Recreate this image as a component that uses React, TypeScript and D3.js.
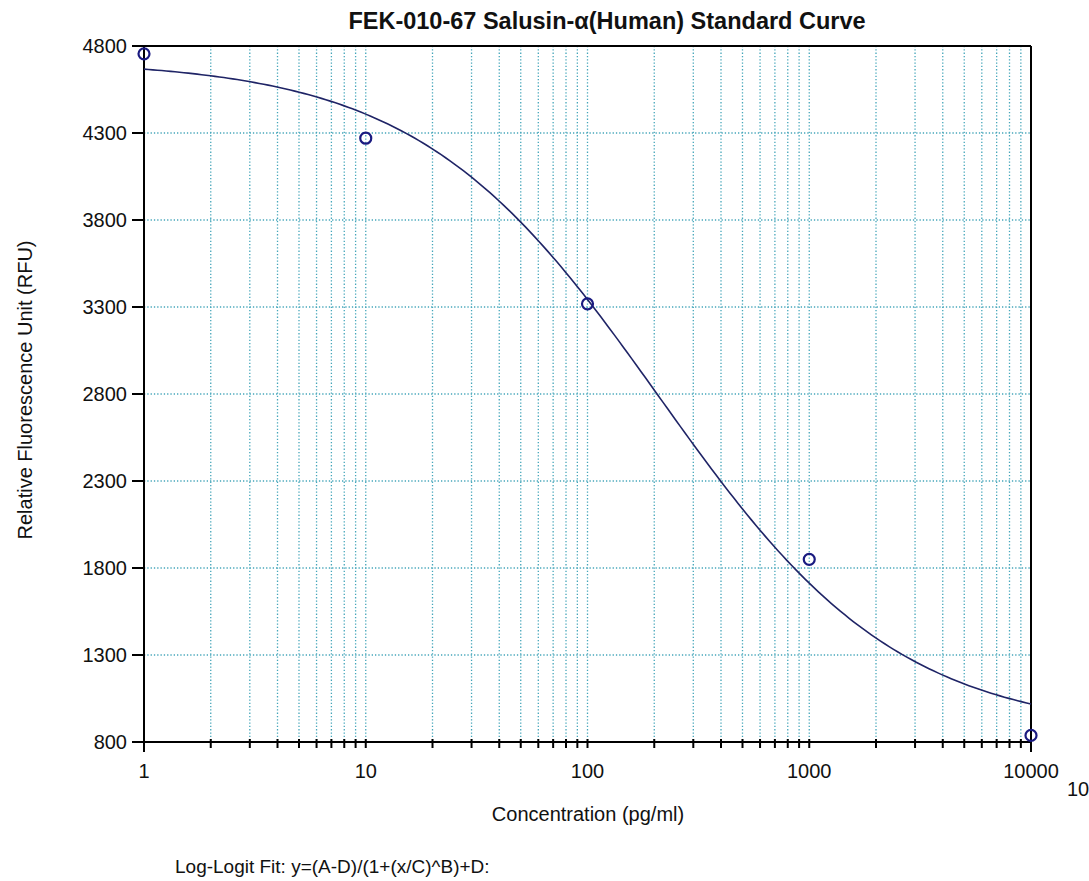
import React from "react";
import * as d3 from "d3";

const TITLE = "FEK-010-67 Salusin-α(Human) Standard Curve";
const X_LABEL = "Concentration (pg/ml)";
const Y_LABEL = "Relative Fluorescence Unit (RFU)";
const FOOTNOTE = "Log-Logit Fit: y=(A-D)/(1+(x/C)^B)+D:";

const concentrations = [1, 10, 100, 1000, 10000];
const rfu = [4755, 4270, 3318, 1850, 838];

const xTickValues = [1, 10, 100, 1000, 10000];
const yTickValues = [800, 1300, 1800, 2300, 2800, 3300, 3800, 4300, 4800];

// Log-logit fit parameters
const FIT_A = 4720;
const FIT_B = 0.8;
const FIT_C = 210;
const FIT_D = 850;

const W = 1089;
const H = 881;
const M = { left: 144, right: 1031, top: 46, bottom: 742 };

export default function App() {
  const x = d3.scaleLog().domain([1, 10000]).range([M.left, M.right]);
  const y = d3.scaleLinear().domain([800, 4800]).range([M.bottom, M.top]);

  const minorX: number[] = [];
  for (let e = 0; e < 4; e++) {
    for (let k = 1; k <= 9; k++) {
      const v = k * Math.pow(10, e);
      if (v > 1 && v < 10000) minorX.push(v);
    }
  }

  const fit = (c: number) => (FIT_A - FIT_D) / (1 + Math.pow(c / FIT_C, FIT_B)) + FIT_D;
  const curveXs = d3.range(0, 4.0001, 0.02).map((e) => Math.pow(10, e));
  const line = d3
    .line<number>()
    .x((c) => x(c))
    .y((c) => y(fit(c)))
    .curve(d3.curveLinear);

  const font = "'Liberation Sans', Arial, sans-serif";
  const grid = "#45a6ba";

  return (
    <>
      <style>{`body{margin:0}`}</style>
      <svg width={W} height={H} style={{ display: "block", background: "#fff" }} fontFamily={font}>
        <rect x={0} y={0} width={W} height={H} fill="#fff" />
        <text x={607} y={29} textAnchor="middle" fontSize={23.5} fontWeight="bold" fill="#111">
          {TITLE}
        </text>

        {/* vertical grid */}
        {minorX.map((v) => (
          <line
            key={"gx" + v}
            x1={x(v)}
            x2={x(v)}
            y1={M.top}
            y2={M.bottom}
            stroke={grid}
            strokeWidth={1.3}
            strokeDasharray="1.3,2"
          />
        ))}
        {/* horizontal grid */}
        {yTickValues
          .filter((v) => v > 800 && v < 4800)
          .map((v) => (
            <line
              key={"gy" + v}
              x1={M.left}
              x2={M.right}
              y1={y(v)}
              y2={y(v)}
              stroke={grid}
              strokeWidth={1.3}
              strokeDasharray="1.3,2"
            />
          ))}

        {/* frame */}
        <line x1={M.left - 12} x2={M.right} y1={M.top} y2={M.top} stroke="#000" strokeWidth={2} />
        <line x1={M.right} x2={M.right} y1={M.top} y2={M.bottom + 10} stroke="#000" strokeWidth={2} />
        <line x1={M.left} x2={M.left} y1={M.top} y2={M.bottom + 10} stroke="#000" strokeWidth={2} />
        <line x1={M.left} x2={M.right} y1={M.bottom} y2={M.bottom} stroke="#000" strokeWidth={2} />

        {/* y ticks */}
        {yTickValues.map((v) => (
          <g key={"yt" + v}>
            <line x1={M.left - 12} x2={M.left} y1={y(v)} y2={y(v)} stroke="#000" strokeWidth={2} />
            <text x={M.left - 17} y={y(v) + 7} textAnchor="end" fontSize={20} fill="#111">
              {v}
            </text>
          </g>
        ))}

        {/* x ticks */}
        {minorX.map((v) => (
          <line
            key={"xt" + v}
            x1={x(v)}
            x2={x(v)}
            y1={M.bottom - 3}
            y2={M.bottom + 6}
            stroke="#000"
            strokeWidth={2}
          />
        ))}
        {xTickValues.map((v) => (
          <text key={"xl" + v} x={x(v)} y={778} textAnchor="middle" fontSize={20} fill="#111">
            {v}
          </text>
        ))}
        <text x={1067} y={796} fontSize={20} fill="#111">
          10
        </text>

        <text x={588} y={821} textAnchor="middle" fontSize={20} fill="#111">
          {X_LABEL}
        </text>
        <text
          transform={`translate(32, ${390}) rotate(-90)`}
          textAnchor="middle"
          fontSize={20}
          fill="#111"
        >
          {Y_LABEL}
        </text>

        {/* fitted curve */}
        <path d={line(curveXs) || ""} fill="none" stroke="#1f2466" strokeWidth={1.6} />

        {/* points */}
        {concentrations.map((c, i) => (
          <circle
            key={"p" + c}
            cx={x(c)}
            cy={y(rfu[i])}
            r={5.5}
            fill="none"
            stroke="#1a1a80"
            strokeWidth={2.2}
          />
        ))}

        <text x={175} y={873} fontSize={19} fill="#111">
          {FOOTNOTE}
        </text>
      </svg>
    </>
  );
}
